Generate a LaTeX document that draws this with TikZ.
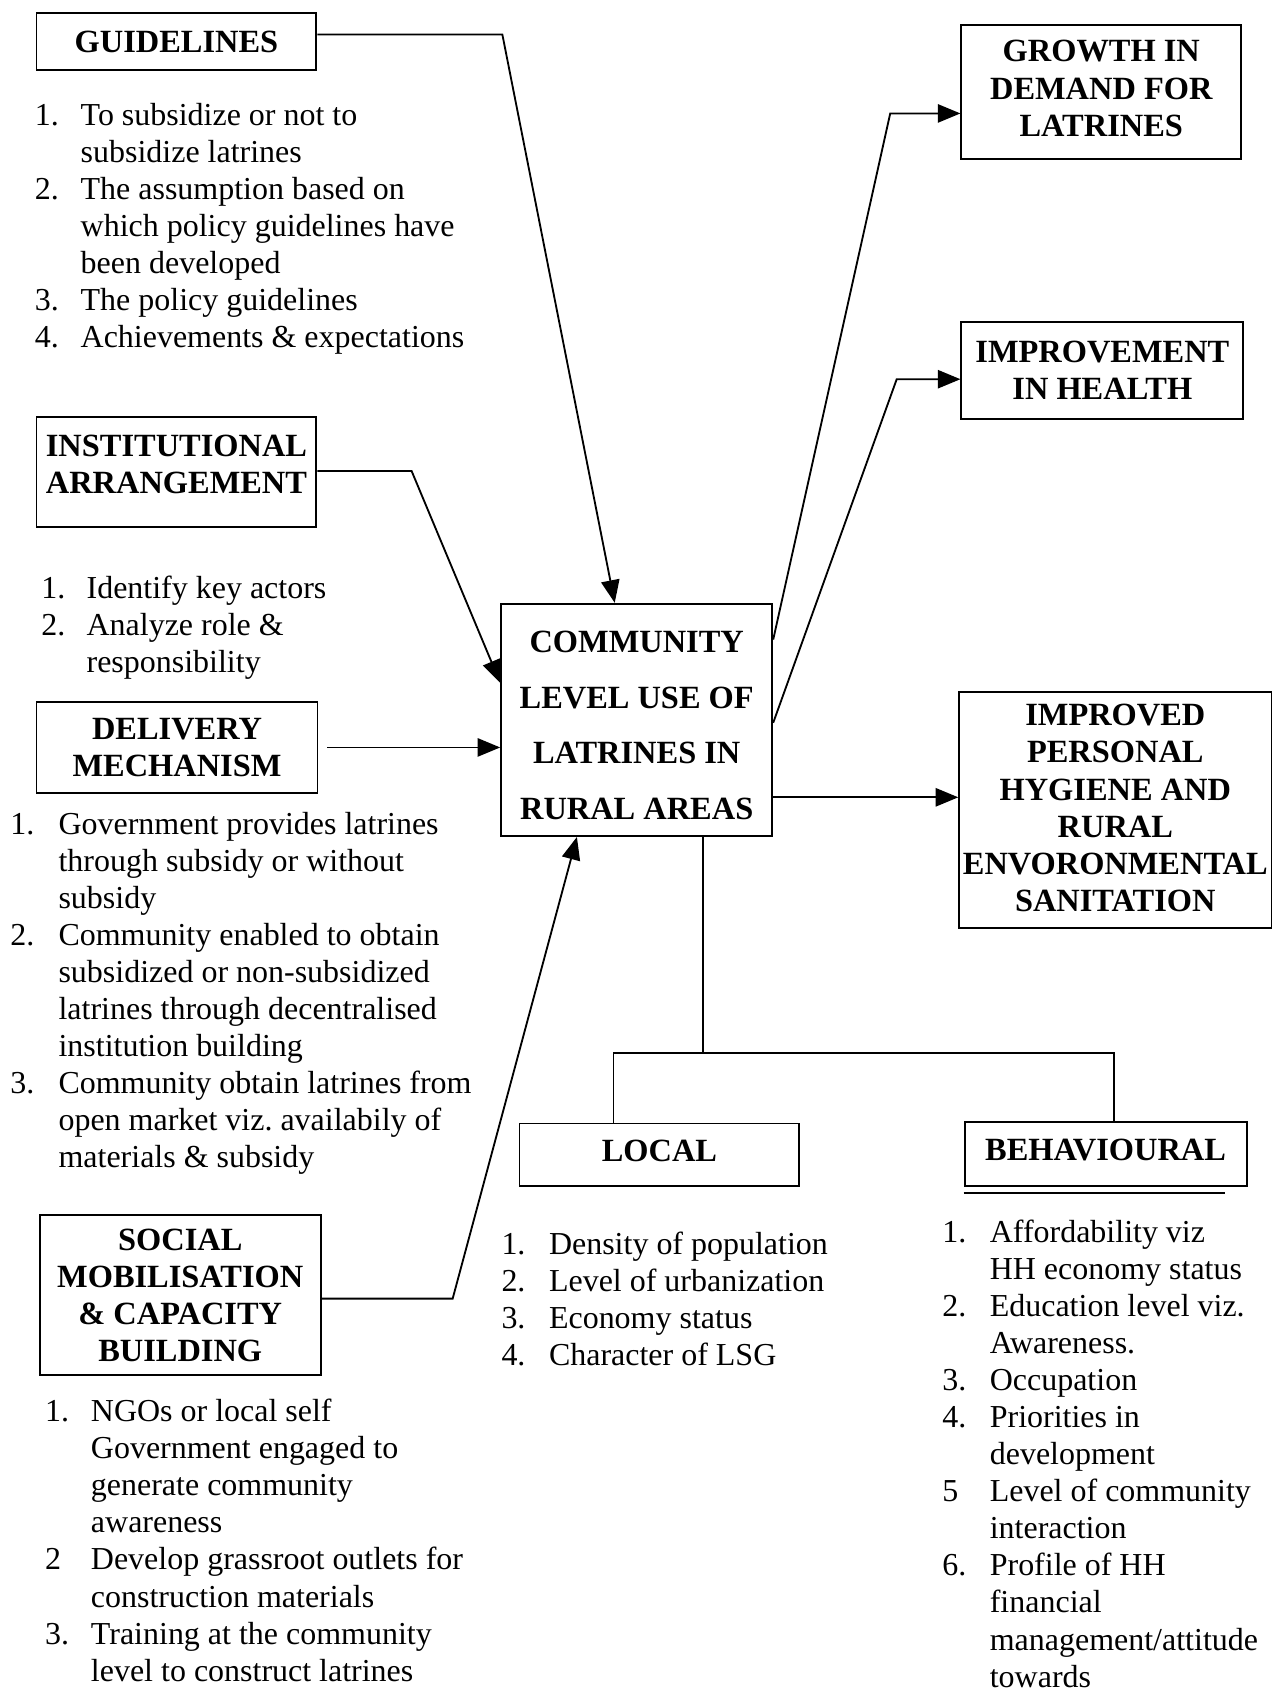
\documentclass[tikz,border=0pt]{standalone}
\usepackage{fontspec}
\setmainfont{Liberation Serif}
\usetikzlibrary{arrows.meta}

\newcommand\hdfont{\fontsize{30}{34.4}\selectfont\bfseries}
\newcommand\ctrfont{\fontsize{30}{51.7}\selectfont\bfseries}
\newcommand\bdfont{\fontsize{29.6}{34.3}\selectfont\frenchspacing}

\tikzset{
  box/.style={draw, line width=1.7pt, inner sep=0pt, align=center,
              anchor=north west, font=\hdfont},
  itemlist/.style={anchor=base west, inner sep=0pt, font=\bdfont},
  conn/.style={line width=1.7pt},
  arr/.style={line width=1.7pt, -{Triangle[length=21pt,width=17pt]}},
}

\begin{document}
\begin{tikzpicture}[x=1pt, y=-1pt]
\useasboundingbox (0,0) rectangle (1181,1568);

% ---------- input boxes (left column) ----------
\node[box, minimum width=259pt, minimum height=53pt] (guide) at (33,11) {GUIDELINES};
\node[box, minimum width=259pt, minimum height=102pt] (inst) at (33,385)
  {INSTITUTIONAL\\ARRANGEMENT\rule[-14pt]{0pt}{14pt}};
\node[box, minimum width=260pt, minimum height=84pt] (deliv) at (33,649)
  {DELIVERY\\MECHANISM};
\node[box, minimum width=260pt, minimum height=148pt] (soc) at (36,1124)
  {SOCIAL\\MOBILISATION\\\& CAPACITY\\BUILDING};

% ---------- central box ----------
\node[box, font=\ctrfont, minimum width=251pt, minimum height=215pt] (comm) at (463,558)
  {\rule{0pt}{30pt}COMMUNITY\\LEVEL USE OF\\LATRINES IN\\RURAL AREAS};

% ---------- outcome boxes (right column) ----------
\node[box, minimum width=259pt, minimum height=124pt] (growth) at (889,22)
  {GROWTH IN\\DEMAND FOR\\LATRINES\rule[-6pt]{0pt}{6pt}};
\node[box, minimum width=261pt, minimum height=90pt] (health) at (889,297)
  {IMPROVEMENT\\IN HEALTH};
\node[box, minimum width=289pt, minimum height=218pt] (hyg) at (887,640)
  {IMPROVED\\PERSONAL\\HYGIENE AND\\RURAL\\ENVORONMENTAL\\SANITATION\rule[-4pt]{0pt}{4pt}};

% ---------- factor boxes (bottom) ----------
\node[box, minimum width=259pt, minimum height=58pt] (local) at (480,1039)
  {LOCAL\rule[-8pt]{0pt}{8pt}};
\node[box, minimum width=261pt, minimum height=59pt] (behav) at (892,1038)
  {BEHAVIOURAL\rule[-8pt]{0pt}{8pt}};
\draw[line width=2.6pt] ([yshift=-5.5pt]behav.south west) -- ++(242,0);

% ---------- item lists ----------
\node[itemlist] (glist) at (32,116) {\begin{tabular}[t]{@{}p{42.5pt}@{}l@{}}
1. & To subsidize or not to\\
   & subsidize latrines\\
2. & The assumption based on\\
   & which policy guidelines have\\
   & been developed\\
3. & The policy guidelines\\
4. & Achievements \& expectations
\end{tabular}};

\node[itemlist] (ilist) at (38,554) {\begin{tabular}[t]{@{}p{42pt}@{}l@{}}
1. & Identify key actors\\
2. & Analyze role \&\\
   & responsibility
\end{tabular}};

\node[itemlist] (dlist) at (9.5,772) {\begin{tabular}[t]{@{}p{44.5pt}@{}l@{}}
1. & Government provides latrines\\
   & through subsidy or without\\
   & subsidy\\
2. & Community enabled to obtain\\
   & subsidized or non-subsidized\\
   & latrines through decentralised\\
   & institution building\\
3. & Community obtain latrines from\\
   & open market viz. availabily of\\
   & materials \& subsidy
\end{tabular}};

\node[itemlist] (slist) at (41.5,1316) {\begin{tabular}[t]{@{}p{42.5pt}@{}l@{}}
1. & NGOs or local self\\
   & Government engaged to\\
   & generate community\\
   & awareness\\
2  & Develop grassroot outlets for\\
   & construction materials\\
3. & Training at the community\\
   & level to construct latrines
\end{tabular}};

\node[itemlist] (llist) at (464,1161) {\begin{tabular}[t]{@{}p{44pt}@{}l@{}}
1. & Density of population\\
2. & Level of urbanization\\
3. & Economy status\\
4. & Character of LSG
\end{tabular}};

\node[itemlist] (blist) at (872,1150) {\begin{tabular}[t]{@{}p{44pt}@{}l@{}}
1. & Affordability viz\\
   & HH economy status\\
2. & Education level viz.\\
   & Awareness.\\
3. & Occupation\\
4. & Priorities in\\
   & development\\
5  & Level of community\\
   & interaction\\
6. & Profile of HH\\
   & financial\\
   & management/attitude\\
   & towards
\end{tabular}};

% ---------- connectors into the central box ----------
\coordinate (gb) at (465,32);
\draw[arr] (gb -| guide.east) -- (gb) -- ([xshift=106pt]comm.north west);

\coordinate (ib) at (381,436);
\draw[arr] (ib -| inst.east) -- (ib) -- ([yshift=-74pt]comm.north west);

\draw[arr] ([xshift=8pt]deliv.east) -- (comm.west |- deliv.east);

\coordinate (sb) at (419,1202);
\draw[arr] (sb -| soc.east) -- (sb) -- ([xshift=71pt]comm.south west);

% ---------- connectors out of the central box ----------
\coordinate (grb) at (824,105);
\draw[arr] ([yshift=-34pt]comm.north east) -- (grb) -- (grb -| growth.west);

\coordinate (hb) at (830,351);
\draw[arr] ([yshift=-111pt]comm.north east) -- (hb) -- (hb -| health.west);

\draw[arr] ([yshift=-180pt]comm.north east) coordinate (hy0) -- (hy0 -| hyg.west);

% ---------- branch to the factor boxes ----------
\coordinate (fork) at (651,975);
\draw[conn] (fork |- comm.south) -- (fork);
\draw[conn] ([xshift=-42.5pt]local.north) |- ([xshift=7.5pt]behav.north |- fork)
  -- ([xshift=7.5pt]behav.north);
\end{tikzpicture}
\end{document}
